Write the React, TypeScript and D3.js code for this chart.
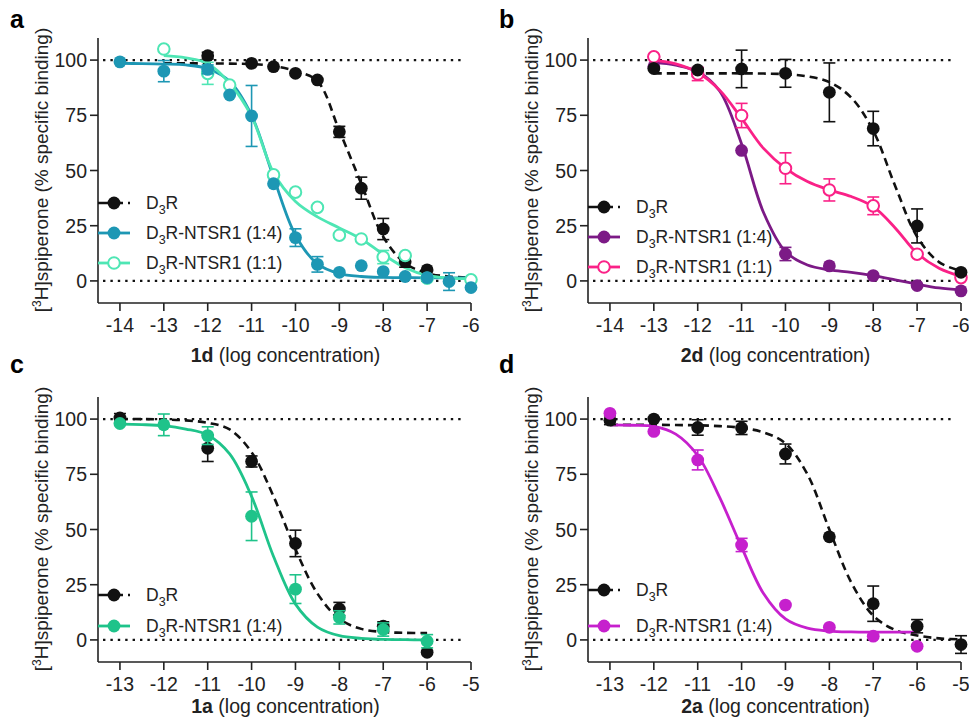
import * as d3 from "d3";

const FONT = '"Liberation Sans", Arial, Helvetica, sans-serif';
const AXW = 373;
const AXH = 265;

type Pt = [number, number, number];
type Fit = [number, number];

const ticksTop = [-14, -13, -12, -11, -10, -9, -8, -7, -6];
const ticksBottom = [-13, -12, -11, -10, -9, -8, -7, -6, -5];
const yTicks = [0, 25, 50, 75, 100];

// panel a (1d)
const aD3R: Pt[] = [[-12, 102, 1.5], [-11, 98.5, 0], [-10.5, 97, 0], [-10, 94, 0], [-9.5, 91, 0], [-9, 67.5, 2.5], [-8.5, 42, 5], [-8, 23.5, 4.8], [-7.5, 8.7, 2.5], [-7, 5, 0]];
const aD3RFit: Fit[] = [[-13, 98.5], [-12.5, 98.5], [-12, 98.5], [-11.5, 98.4], [-11, 98.2], [-10.5, 97.3], [-10, 95], [-9.5, 90.5], [-9, 68], [-8.5, 44], [-8, 20], [-7.5, 8], [-7, 3.5], [-6.5, 2], [-6, 1.5]];
const a14: Pt[] = [[-14, 99.2, 0], [-13, 95, 4.8], [-12, 95.8, 2], [-11.5, 84.2, 0], [-11, 74.7, 13.8], [-10.5, 44, 0], [-10, 19.6, 4], [-9.5, 7.5, 3.5], [-9, 3.9, 0], [-8.5, 6.9, 0], [-8, 4.2, 0], [-7.5, 2, 0], [-7, 1.5, 0], [-6.5, -0.3, 4], [-6, -3, 0]];
const a14Fit: Fit[] = [[-14, 98.5], [-13.5, 98.4], [-13, 98.2], [-12.5, 97.8], [-12, 96.1], [-11.5, 90.4], [-11, 75], [-10.5, 46.9], [-10, 20.7], [-9.5, 7.7], [-9, 3.3], [-8.5, 2], [-8, 1.6], [-7.5, 1.5], [-7, 1.4], [-6.5, 1.4], [-6, 1.4]];
const a11: Pt[] = [[-13, 105, 0], [-12, 94, 5], [-11.5, 88.7, 0], [-10.5, 48, 0], [-10, 40.2, 0], [-9.5, 33.3, 0], [-9, 20.7, 0], [-8.5, 19, 0], [-8, 10.8, 3], [-7.5, 11.5, 0], [-7, 1.2, 0], [-6, 0.5, 0]];
const a11Fit: Fit[] = [[-13, 102], [-12.5, 101], [-12, 98.5], [-11.5, 89.5], [-11, 74.5], [-10.5, 49], [-10, 36], [-9.5, 29], [-9, 24], [-8.5, 19], [-8, 12], [-7.5, 6], [-7, 2.5], [-6.5, 1.3], [-6, 1]];

// panel b (2d)
const bD3R: Pt[] = [[-13, 96.2, 0], [-12, 95.5, 0], [-11, 96, 8.5], [-10, 94, 6.3], [-9, 85.4, 13.3], [-8, 69, 7.8], [-7, 24.9, 7.7], [-6, 3.9, 0]];
const bD3RFit: Fit[] = [[-13, 94], [-12.5, 94], [-12, 94], [-11.5, 94], [-11, 94], [-10.5, 93.9], [-10, 93.6], [-9.5, 92.6], [-9, 90], [-8.5, 83], [-8, 68], [-7.5, 43], [-7, 20], [-6.5, 8.5], [-6, 4.5]];
const b14: Pt[] = [[-13, 97, 0], [-12, 94.6, 2], [-11, 59.1, 0], [-10, 12.2, 3], [-9, 6.8, 0], [-8, 2.4, 0], [-7, -2.1, 0], [-6, -4.5, 0]];
const b14Fit: Fit[] = [[-13, 99], [-12.5, 97.7], [-12, 94.7], [-11.5, 86], [-11, 62], [-10.5, 31], [-10, 13.3], [-9.5, 7.2], [-9, 5], [-8.5, 3.9], [-8, 2.4], [-7.5, 0.5], [-7, -1.5], [-6.5, -3.2], [-6, -4.1]];
const b11: Pt[] = [[-13, 101.5, 0], [-12, 93.7, 3], [-11, 74.9, 5.5], [-10, 51, 7], [-9, 41.2, 5], [-8, 34, 4], [-7, 12.1, 0], [-6, 1.5, 0]];
const b11Fit: Fit[] = [[-13, 100], [-12.5, 98.3], [-12, 94.4], [-11.5, 86.4], [-11, 73.6], [-10.5, 60], [-10, 51], [-9.5, 45], [-9, 41.2], [-8.5, 38.2], [-8, 33.6], [-7.5, 24], [-7, 12.5], [-6.5, 5.7], [-6, 2]];

// panel c (1a)
const cD3R: Pt[] = [[-13, 100.5, 2], [-11, 86.8, 6], [-10, 80.8, 2.5], [-9, 43.7, 6], [-8, 14, 3], [-7, 6.2, 2], [-6, -5.6, 0]];
const cD3RFit: Fit[] = [[-13, 100], [-12.5, 100], [-12, 99.8], [-11.5, 99.4], [-11, 98.3], [-10.5, 95.3], [-10, 85], [-9.5, 65], [-9, 41], [-8.5, 21], [-8, 9.5], [-7.5, 5], [-7, 3.6], [-6.5, 3.2], [-6, 3.1]];
const c14: Pt[] = [[-13, 98, 0], [-12, 97.4, 4.9], [-11, 92.5, 4], [-10, 56, 11], [-9, 23, 6.5], [-8, 10.2, 3], [-7, 4.7, 3], [-6, -0.6, 3]];
const c14Fit: Fit[] = [[-13, 97.7], [-12.5, 97.5], [-12, 97], [-11.5, 95.5], [-11, 92.8], [-10.5, 84.2], [-10, 65], [-9.5, 37.8], [-9, 16.2], [-8.5, 5.8], [-8, 1.9], [-7.5, 0.7], [-7, 0.2], [-6.5, 0.1], [-6, 0]];

// panel d (2a)
const dD3R: Pt[] = [[-13, 99.5, 2], [-12, 100, 0], [-11, 96.2, 3.5], [-10, 96, 3], [-9, 84.2, 4.5], [-8, 46.7, 0], [-7, 16.4, 8], [-6, 6.2, 3], [-5, -2.1, 4]];
const dD3RFit: Fit[] = [[-13, 97.4], [-12.5, 97.4], [-12, 97.4], [-11.5, 97.3], [-11, 97.2], [-10.5, 96.8], [-10, 96], [-9.5, 94], [-9, 89], [-8.5, 75], [-8, 50], [-7.5, 26], [-7, 11], [-6.5, 4.5], [-6, 2], [-5.5, 0.7], [-5, 0.3]];
const d14: Pt[] = [[-13, 102.6, 0], [-12, 94.4, 0], [-11, 81.5, 4.5], [-10, 43, 3], [-9, 15.8, 0], [-8, 5.7, 0], [-7, 1.7, 0], [-6, -2.9, 0]];
const d14Fit: Fit[] = [[-13, 97.4], [-12.5, 97.2], [-12, 96.7], [-11.5, 93.2], [-11, 83.5], [-10.5, 64.5], [-10, 42], [-9.5, 21], [-9, 9.5], [-8.5, 5.3], [-8, 4], [-7.5, 3.6], [-7, 3.5], [-6.5, 3.5], [-6, 3.5]];

const BLACK = "#111";
const TEAL = "#1d97b4";
const AQUA = "#4ee6b4";
const PURPLE = "#7c1a86";
const PINK = "#fa2187";
const GREEN = "#1fc38a";
const MAGENTA = "#c620cd";

interface Series {
  rest: string; // legend text after "D3"
  pts: Pt[];
  fit: Fit[];
  color: string;
  open?: boolean;
  dashed?: boolean;
}

interface PanelProps {
  letter: string;
  compound: string;
  left: number;
  top: number;
  letterX: number;
  letterY: number;
  titleY: number;
  xDomain: [number, number];
  ticks: number[];
  series: Series[];
  order: number[];
  legendY: number[];
}

function Marker({ cx, cy, s, r = 6.4 }: { cx: number; cy: number; s: Series; r?: number }) {
  return s.open ? (
    <circle cx={cx} cy={cy} r={r - 0.6} fill="#fff" stroke={s.color} strokeWidth={2} />
  ) : (
    <circle cx={cx} cy={cy} r={r} fill={s.color} />
  );
}

function Panel(p: PanelProps) {
  const x = d3.scaleLinear().domain(p.xDomain).range([p.left, p.left + AXW]);
  const y = d3.scaleLinear().domain([-10, 110]).range([p.top + AXH, p.top]);
  const path = d3
    .line<Fit>()
    .x((d) => x(d[0]))
    .y((d) => y(d[1]))
    .curve(d3.curveCatmullRom.alpha(0.5));
  const bottom = p.top + AXH;
  return (
    <g>
      <text x={p.letterX} y={p.letterY} fontSize={25} fontWeight="bold" fontFamily={FONT}>
        {p.letter}
      </text>
      {/* reference lines */}
      {[0, 100].map((v) => (
        <line key={v} x1={p.left + 5} x2={p.left + 367} y1={y(v)} y2={y(v)} stroke={BLACK} strokeWidth={2.4} strokeDasharray="2.4,5" />
      ))}
      {/* axes */}
      <line x1={p.left} x2={p.left} y1={p.top} y2={bottom} stroke="#222" strokeWidth={1.6} />
      <line x1={p.left} x2={p.left + AXW} y1={bottom} y2={bottom} stroke="#222" strokeWidth={1.6} />
      {yTicks.map((t) => (
        <g key={t}>
          <line x1={p.left - 8} x2={p.left} y1={y(t)} y2={y(t)} stroke="#222" strokeWidth={1.6} />
          <text x={p.left - 11} y={y(t) + 7} textAnchor="end" fontSize={19.5} fontFamily={FONT} fill="#222">
            {t}
          </text>
        </g>
      ))}
      {p.ticks.map((t) => (
        <g key={t}>
          <line x1={x(t)} x2={x(t)} y1={bottom} y2={bottom + 8} stroke="#222" strokeWidth={1.6} />
          <text x={x(t)} y={bottom + 29} textAnchor="middle" fontSize={19.5} fontFamily={FONT} fill="#222">
            {t}
          </text>
        </g>
      ))}
      <text x={p.left + AXW / 2 + 1} y={p.titleY} textAnchor="middle" fontSize={19.5} fontFamily={FONT} fill="#222">
        <tspan fontWeight="bold">{p.compound}</tspan> (log concentration)
      </text>
      <text
        transform={`translate(${p.left - 50},${p.top + 132}) rotate(-90)`}
        textAnchor="middle"
        fontSize={19}
        fontFamily={FONT}
        fill="#222"
      >
        [<tspan fontSize={12} dy={-7}>3</tspan>
        <tspan dy={7}>H]spiperone (% specific binding)</tspan>
      </text>
      {/* fitted curves */}
      {p.series.map((s, i) => (
        <path
          key={"c" + i}
          d={path(s.fit) || ""}
          fill="none"
          stroke={s.color}
          strokeWidth={s.dashed ? 2.6 : 2.8}
          strokeDasharray={s.dashed ? "8,5" : undefined}
        />
      ))}
      {/* error bars and points */}
      {p.order.map((si) => {
        const s = p.series[si];
        return (
          <g key={"p" + si}>
            {s.pts
              .filter((d) => d[2] > 0)
              .map((d, j) => (
                <g key={j} stroke={s.color} strokeWidth={1.6}>
                  <line x1={x(d[0])} x2={x(d[0])} y1={y(d[1] - d[2])} y2={y(d[1] + d[2])} />
                  <line x1={x(d[0]) - 6} x2={x(d[0]) + 6} y1={y(d[1] + d[2])} y2={y(d[1] + d[2])} />
                  <line x1={x(d[0]) - 6} x2={x(d[0]) + 6} y1={y(d[1] - d[2])} y2={y(d[1] - d[2])} />
                </g>
              ))}
            {s.pts.map((d, j) => (
              <Marker key={j} cx={x(d[0])} cy={y(d[1])} s={s} />
            ))}
          </g>
        );
      })}
      {/* legend */}
      {p.series.map((s, i) => {
        const ly = p.legendY[i];
        return (
          <g key={"l" + i}>
            <line
              x1={p.left}
              x2={p.left + 32}
              y1={ly}
              y2={ly}
              stroke={s.color}
              strokeWidth={s.dashed ? 2.6 : 2.8}
              strokeDasharray={s.dashed ? "10,5" : undefined}
            />
            <Marker cx={p.left + 16} cy={ly} s={s} />
            <text x={p.left + 48} y={ly + 6} fontSize={17.5} fontFamily={FONT} fill="#222">
              D<tspan fontSize={12.5} dy={5}>3</tspan>
              <tspan dy={-5}>{s.rest}</tspan>
            </text>
          </g>
        );
      })}
    </g>
  );
}

const panels: PanelProps[] = [
  {
    letter: "a", compound: "1d", left: 98, top: 38, letterX: 10, letterY: 28, titleY: 362,
    xDomain: [-14.5, -6], ticks: ticksTop, legendY: [203, 233, 263], order: [0, 2, 1],
    series: [
      { rest: "R", pts: aD3R, fit: aD3RFit, color: BLACK, dashed: true },
      { rest: "R-NTSR1 (1:4)", pts: a14, fit: a14Fit, color: TEAL },
      { rest: "R-NTSR1 (1:1)", pts: a11, fit: a11Fit, color: AQUA, open: true },
    ],
  },
  {
    letter: "b", compound: "2d", left: 588, top: 38, letterX: 499, letterY: 28, titleY: 362,
    xDomain: [-14.5, -6], ticks: ticksTop, legendY: [207, 237, 267], order: [1, 2, 0],
    series: [
      { rest: "R", pts: bD3R, fit: bD3RFit, color: BLACK, dashed: true },
      { rest: "R-NTSR1 (1:4)", pts: b14, fit: b14Fit, color: PURPLE },
      { rest: "R-NTSR1 (1:1)", pts: b11, fit: b11Fit, color: PINK, open: true },
    ],
  },
  {
    letter: "c", compound: "1a", left: 98, top: 397, letterX: 10, letterY: 373, titleY: 713,
    xDomain: [-13.5, -5], ticks: ticksBottom, legendY: [595, 626], order: [0, 1],
    series: [
      { rest: "R", pts: cD3R, fit: cD3RFit, color: BLACK, dashed: true },
      { rest: "R-NTSR1 (1:4)", pts: c14, fit: c14Fit, color: GREEN },
    ],
  },
  {
    letter: "d", compound: "2a", left: 588, top: 397, letterX: 499, letterY: 373, titleY: 713,
    xDomain: [-13.5, -5], ticks: ticksBottom, legendY: [590, 626], order: [0, 1],
    series: [
      { rest: "R", pts: dD3R, fit: dD3RFit, color: BLACK, dashed: true },
      { rest: "R-NTSR1 (1:4)", pts: d14, fit: d14Fit, color: MAGENTA },
    ],
  },
];

export default function App() {
  return (
    <div style={{ position: "absolute", left: 0, top: 0 }}>
      <svg width={969} height={722} viewBox="0 0 969 722" style={{ display: "block", background: "#fff" }}>
        <rect width={969} height={722} fill="#fff" />
        {panels.map((p) => (
          <Panel key={p.letter} {...p} />
        ))}
      </svg>
    </div>
  );
}
